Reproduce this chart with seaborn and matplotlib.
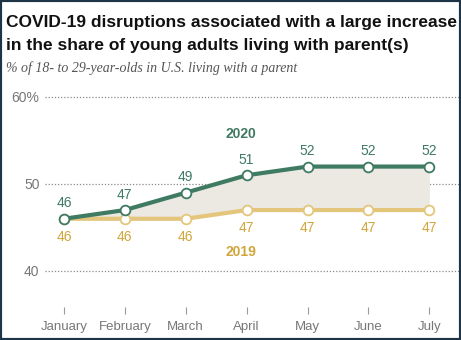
import matplotlib
matplotlib.use("Agg")
import matplotlib.pyplot as plt
import seaborn as sns
import pandas as pd
from matplotlib.patches import Rectangle

months = ["January", "February", "March", "April", "May", "June", "July"]
values_2020 = [46, 47, 49, 51, 52, 52, 52]
values_2019 = [46, 46, 46, 47, 47, 47, 47]
y_ticks = [40, 50, 60]
y_tick_labels = ["40", "50", "60%"]

GREEN = "#3f7a63"
GOLD_LINE = "#e4c57c"
GOLD_TEXT = "#d2a53a"
FILL = "#ebe9e2"
GRAY = "#777777"

sns.set_style("white")
plt.rcParams["font.family"] = ["Liberation Sans", "DejaVu Sans"]

df = pd.DataFrame({
    "x": list(range(len(months))) * 2,
    "value": values_2020 + values_2019,
    "year": ["2020"] * len(months) + ["2019"] * len(months),
})

fig = plt.figure(figsize=(4.61, 3.40), dpi=100)
ax = fig.add_axes([45 / 461, 33 / 340, 416 / 461, 217 / 340])

x = list(range(len(months)))
ax.fill_between(x, values_2019, values_2020, color=FILL, zorder=1, linewidth=0)

sns.lineplot(data=df, x="x", y="value", hue="year",
             palette={"2020": GREEN, "2019": GOLD_LINE},
             hue_order=["2019", "2020"],
             linewidth=3.0, marker="o", markersize=7,
             markerfacecolor="white", markeredgewidth=1.3,
             legend=False, ax=ax, zorder=3)
for line in ax.lines:
    line.set_markeredgecolor(line.get_color())

for i, v in enumerate(values_2020):
    ax.annotate(str(v), (i, v), xytext=(0, 6), textcoords="offset points",
                ha="center", va="bottom", color=GREEN, fontsize=10)
for i, v in enumerate(values_2019):
    ax.annotate(str(v), (i, v), xytext=(0, -8), textcoords="offset points",
                ha="center", va="top", color=GOLD_TEXT, fontsize=10)

ax.text(2.9, 55.8, "2020", color=GREEN, fontsize=10, fontweight="bold", ha="center", va="center")
ax.text(2.9, 42.2, "2019", color=GOLD_TEXT, fontsize=10, fontweight="bold", ha="center", va="center")

ax.set_xlim(-0.31, 6.52)
ax.set_ylim(35.86, 60.8)
ax.set_yticks(y_ticks)
ax.set_yticklabels(y_tick_labels)
ax.set_xticks(x)
ax.set_xticklabels(months)
ax.set_xlabel("")
ax.set_ylabel("")
for g in y_ticks:
    ax.axhline(g, color="#8a8a8a", linestyle=(0, (1, 1.5)), linewidth=0.9, zorder=0)
for s in ax.spines.values():
    s.set_visible(False)
ax.tick_params(axis="y", length=0, pad=4, labelsize=10, labelcolor=GRAY)
ax.tick_params(axis="x", direction="out", length=5, width=0.8, color="#999999",
               pad=5, labelsize=9.5, labelcolor=GRAY, bottom=True)

fig.text(6 / 461, 1 - 27 / 340, "COVID-19 disruptions associated with a large increase",
         fontsize=12.5, fontweight="bold", color="#111111", ha="left", va="baseline")
fig.text(6 / 461, 1 - 50 / 340, "in the share of young adults living with parent(s)",
         fontsize=12.5, fontweight="bold", color="#111111", ha="left", va="baseline")
fig.text(6 / 461, 1 - 72 / 340, "% of 18- to 29-year-olds in U.S. living with a parent",
         fontsize=10, style="italic", family=["Liberation Serif", "DejaVu Serif"],
         color="#555555", ha="left", va="baseline")

fig.patches.append(Rectangle((0, 0), 1, 1, transform=fig.transFigure, fill=False,
                             edgecolor="#1e3547", linewidth=3, zorder=10))

fig.savefig("out.png", dpi=100)
